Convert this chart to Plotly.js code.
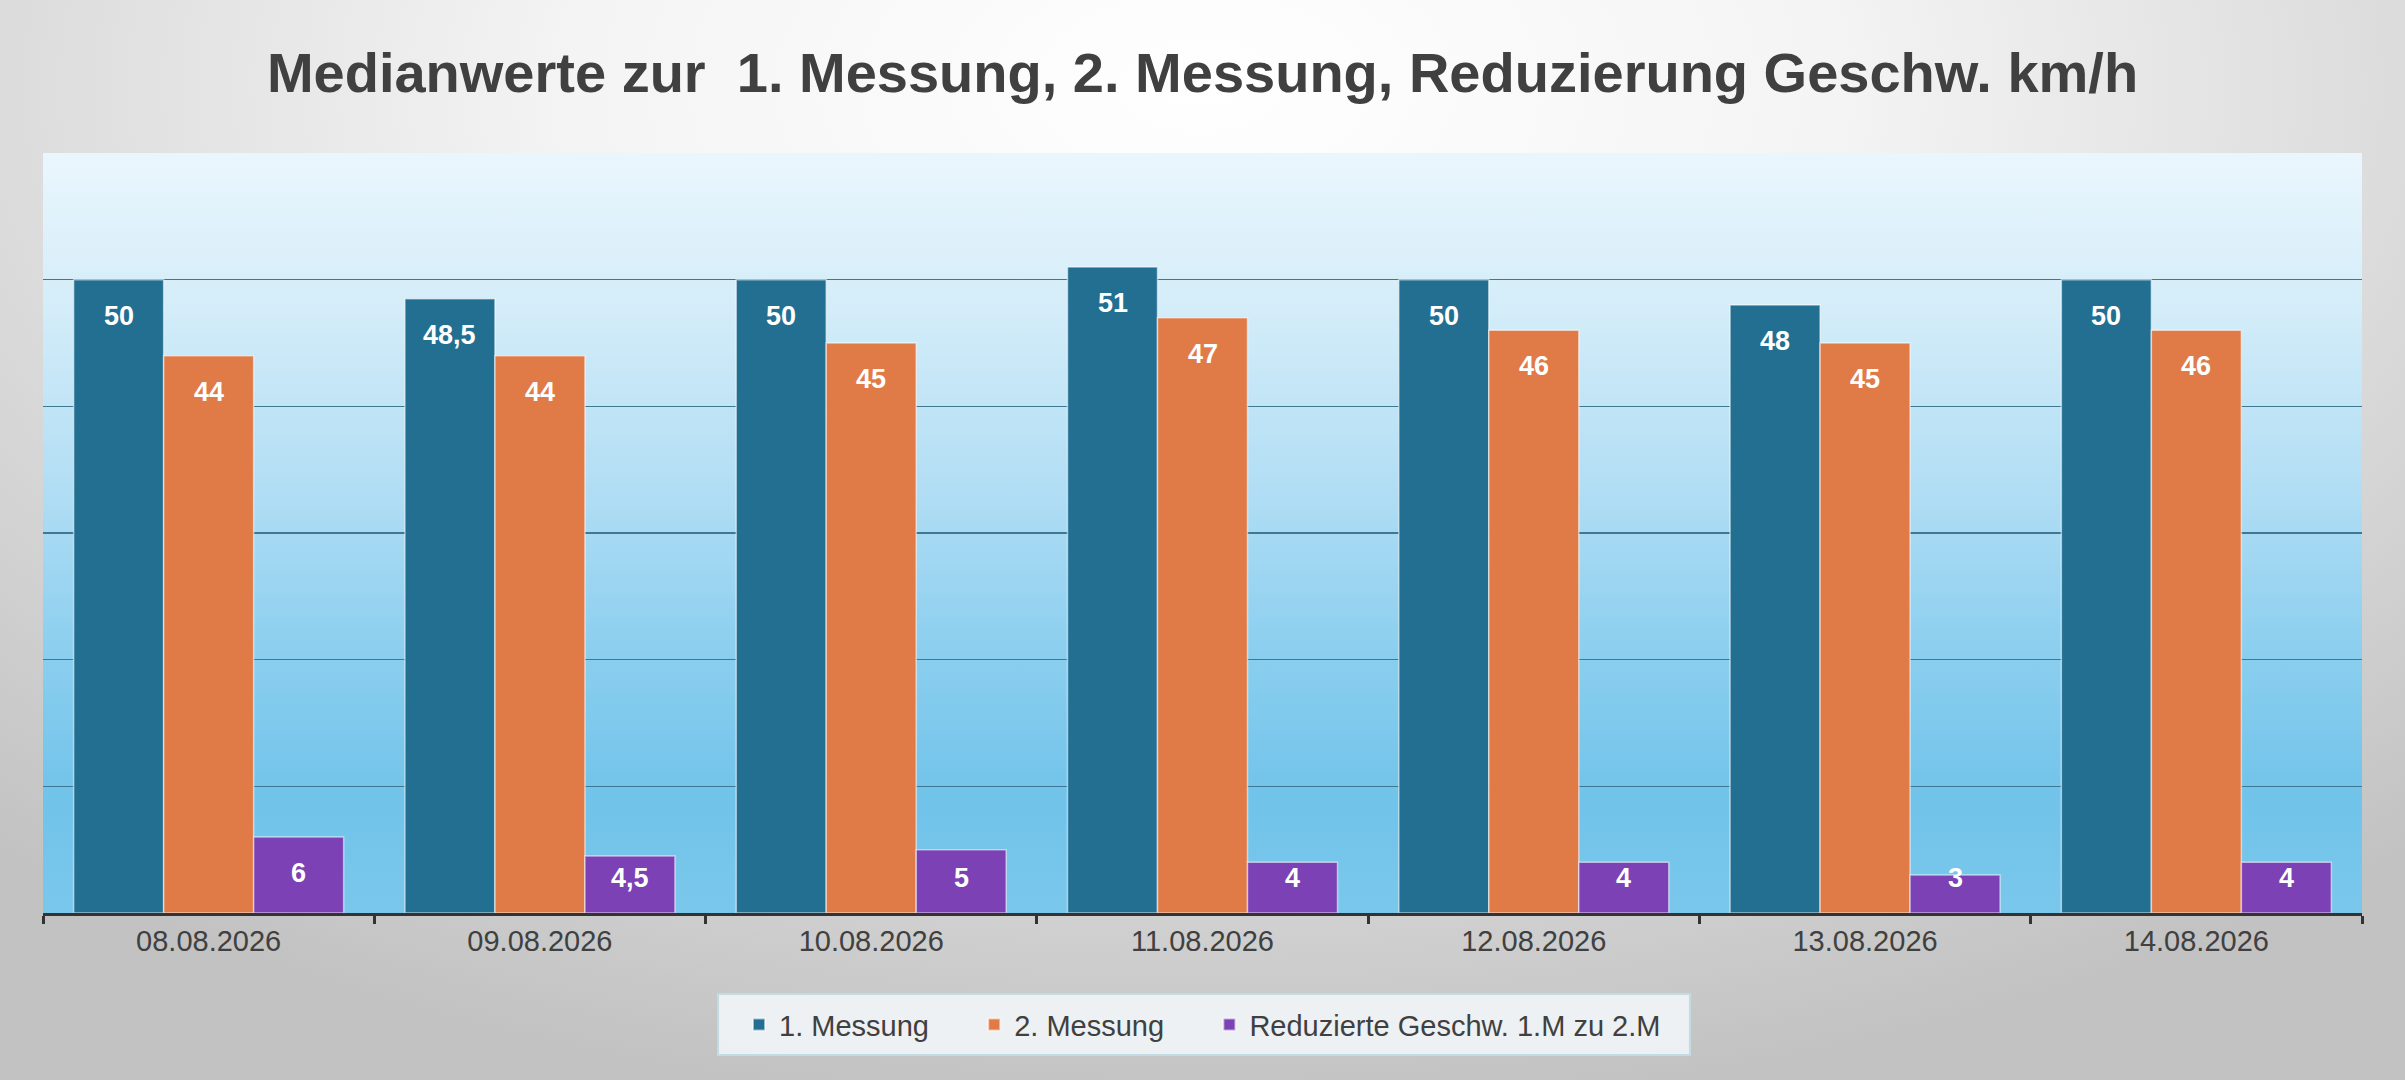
<!DOCTYPE html>
<html>
<head>
<meta charset="utf-8">
<script src="https://cdn.plot.ly/plotly-3.0.1.min.js"></script>
<style>
  html, body { margin: 0; padding: 0; }
  #wrap {
    position: relative; width: 2405px; height: 1080px; overflow: hidden;
    background: radial-gradient(ellipse 75% 95% at 50% 8%, #ffffff 0%, #f4f4f4 35%, #d9d9d9 70%, #c2c2c2 100%);
  }
  #plotbg {
    position: absolute; left: 43px; top: 153px; width: 2319px; height: 760px;
    background: linear-gradient(to bottom, #eaf6fd 0%, #d4edf9 20%, #b0ddf4 45%, #8ccfef 65%, #71c3ea 85%, #7ac7ec 100%);
  }
  #chart { position: absolute; left: 0; top: 0; width: 2405px; height: 1080px; }
</style>
</head>
<body>
<div id="wrap">
  <div id="plotbg"></div>
  <div id="chart"></div>
</div>
<script>
var dates = ['08.08.2026', '09.08.2026', '10.08.2026', '11.08.2026', '12.08.2026', '13.08.2026', '14.08.2026'];
var messung1 = [50, 48.5, 50, 51, 50, 48, 50];
var messung2 = [44, 44, 45, 47, 46, 45, 46];
var reduziert = [6, 4.5, 5, 4, 4, 3, 4];
var seriesNames = ['1. Messung', '2. Messung', 'Reduzierte Geschw. 1.M zu 2.M'];
var seriesColors = ['#226f92', '#e07b48', '#7b41b5'];

var allSeries = [messung1, messung2, reduziert];
var bargap = 0.185;
// extra room after a legend entry (Excel spaces them wider than plotly)
var legendPad = '&nbsp;&nbsp;&nbsp;&nbsp;&nbsp;';

var traces = allSeries.map(function(vals, j) {
  return {
    type: 'bar',
    x: dates,
    y: vals,
    name: seriesNames[j] + (j < 2 ? legendPad : ''),
    marker: { color: seriesColors[j], line: { color: 'rgba(255,255,255,0.55)', width: 1.5 } },
    hoverinfo: 'skip'
  };
});

// value labels sit a little below the bar top, like Excel's "inside end"
var barW = (1 - bargap) / 3;
var annotations = [];
allSeries.forEach(function(vals, j) {
  vals.forEach(function(v, i) {
    annotations.push({
      x: i + (j - 1) * barW,
      y: Math.max(v - 2.85, 2.75),
      xref: 'x', yref: 'y',
      text: String(v).replace('.', ','),
      showarrow: false,
      font: { family: 'Liberation Sans, Arial, sans-serif', size: 27, color: '#ffffff', weight: 'bold' }
    });
  });
});

var layout = {
  width: 2405,
  height: 1080,
  margin: { l: 43, r: 43, t: 153, b: 167 },
  paper_bgcolor: 'rgba(0,0,0,0)',
  plot_bgcolor: 'rgba(0,0,0,0)',
  barmode: 'group',
  bargap: bargap,
  bargroupgap: 0,
  showlegend: true,
  title: {
    text: 'Medianwerte zur&nbsp; 1. Messung, 2. Messung, Reduzierung Geschw. km/h',
    x: 0.5, xanchor: 'center', xref: 'paper',
    y: 1 - 72 / 1080, yanchor: 'middle',
    font: { family: 'Liberation Sans, Arial, sans-serif', size: 56, color: '#404040', weight: 'bold' }
  },
  xaxis: {
    type: 'category',
    showline: true, linecolor: '#333333', linewidth: 3,
    ticks: 'outside', tickson: 'boundaries', ticklen: 8, tickwidth: 3, tickcolor: '#333333',
    showgrid: false,
    tickfont: { family: 'Liberation Sans, Arial, sans-serif', size: 29, color: '#404040' },
    range: [-0.5, 6.5]
  },
  yaxis: {
    range: [0, 60],
    tickvals: [10, 20, 30, 40, 50],
    showticklabels: false,
    showgrid: true, gridcolor: '#3f7892', gridwidth: 1.5,
    zeroline: false, showline: false
  },
  legend: {
    orientation: 'h',
    x: 0.5, xanchor: 'center',
    y: -0.147, yanchor: 'middle',
    bgcolor: 'rgba(0,0,0,0)',
    borderwidth: 0,
    font: { family: 'Liberation Sans, Arial, sans-serif', size: 29, color: '#404040' },
    itemsizing: 'constant'
  },
  shapes: [{
    // legend frame
    type: 'rect', xref: 'paper', yref: 'paper', layer: 'below',
    x0: 0.2911, x1: 0.7102, y0: -0.1868, y1: -0.1066,
    fillcolor: 'rgba(241,245,247,0.9)',
    line: { color: '#c3dbe3', width: 2 }
  }],
  annotations: annotations
};

Plotly.newPlot('chart', traces, layout, { displayModeBar: false, staticPlot: true });
</script>
</body>
</html>
